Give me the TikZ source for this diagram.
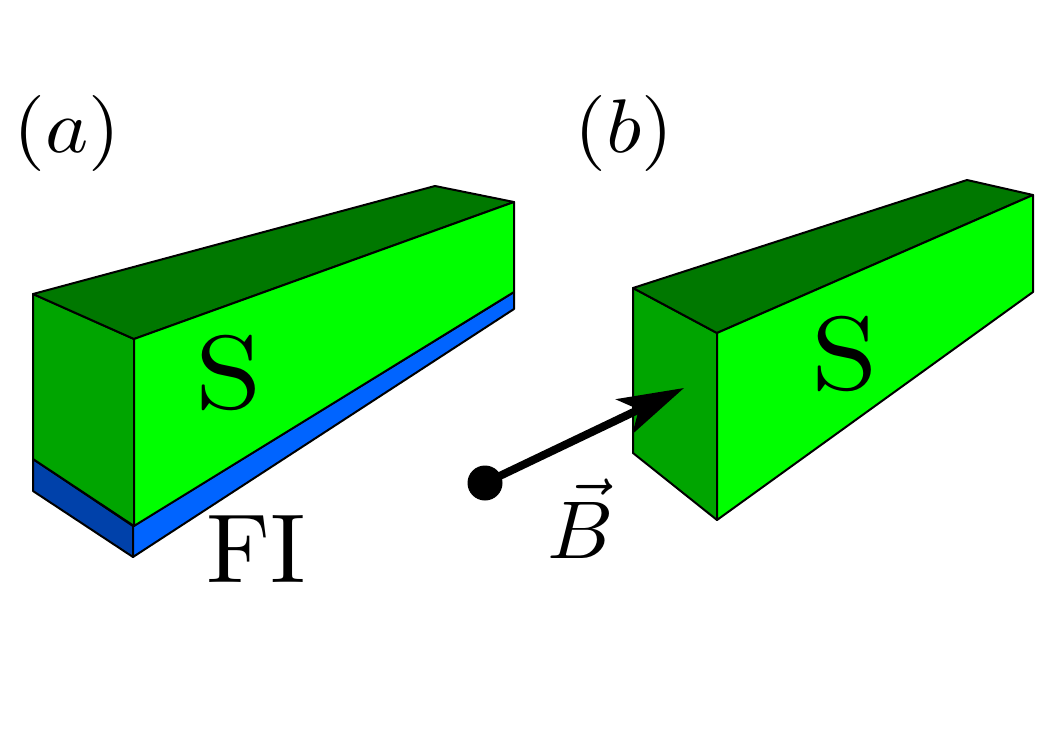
\documentclass[tikz,border=0pt]{standalone}
\usepackage{xcolor}
\definecolor{frontgreen}{RGB}{0,255,0}
\definecolor{topgreen}{RGB}{0,120,0}
\definecolor{sidegreen}{RGB}{0,165,0}
\definecolor{fibright}{RGB}{0,100,255}
\definecolor{fidark}{RGB}{0,65,170}
\usetikzlibrary{arrows.meta,positioning}
\tikzset{
  facebox/.style={draw=black,line width=2pt,line join=round},
  biglabel/.style={inner sep=0pt,scale=9.8},
  superlabel/.style={inner sep=0pt,xscale=12,yscale=10.4},
  corelabel/.style={inner sep=0pt,xscale=8.2,yscale=7.6},
  veclabel/.style={inner sep=0pt,scale=8.2},
}
\begin{document}
\begin{tikzpicture}[x=1pt,y=-1pt]
      \useasboundingbox (0,0) rectangle (1053,745);
      % left bar
      \path[facebox,fill=fidark] (33,459) -- (133,526) -- (133,557) -- (33,491) -- cycle;
      \path[facebox,fill=fibright] (133,526) -- (514,292) -- (514,309) -- (133,557) -- cycle;
      \path[facebox,fill=sidegreen] (33,294) -- (134,339) -- (134,526) -- (33,459) -- cycle;
      \path[facebox,fill=topgreen] (33,294) -- (435,186) -- (514,202) -- (134,339) -- cycle;
      \path[facebox,fill=frontgreen] (134,339) -- (514,202) -- (514,292) -- (134,526) -- cycle;
      % right bar
      \path[facebox,fill=sidegreen] (633,288) -- (717,333) -- (717,520) -- (633,453) -- cycle;
      \path[facebox,fill=topgreen] (633,288) -- (967,180) -- (1033,195) -- (717,333) -- cycle;
      \path[facebox,fill=frontgreen] (717,333) -- (1033,195) -- (1033,292) -- (717,520) -- cycle;
      % field
      \node[circle,fill=black,minimum size=35pt,inner sep=0pt] (dot) at (485,483) {};
      \coordinate (tip) at (684,388);
      \draw[line width=8pt,-{Stealth[length=66pt,width=38pt,inset=16pt]}] (dot.center) -- (tip);
      % labels
      \node[corelabel] (laba) at (67,133) {$(a)$};
      \node[corelabel] (labb) at (624,133) {$(b)$};
      \node[superlabel] (sa) at (229,373) {S};
      \node[superlabel] (sb) at (845,354) {S};
      \node[biglabel] (fi) at (256,549) {FI};
      \node[veclabel] (bfield) at (581,519) {$\vec{B}$};
    \end{tikzpicture}
\end{document}
